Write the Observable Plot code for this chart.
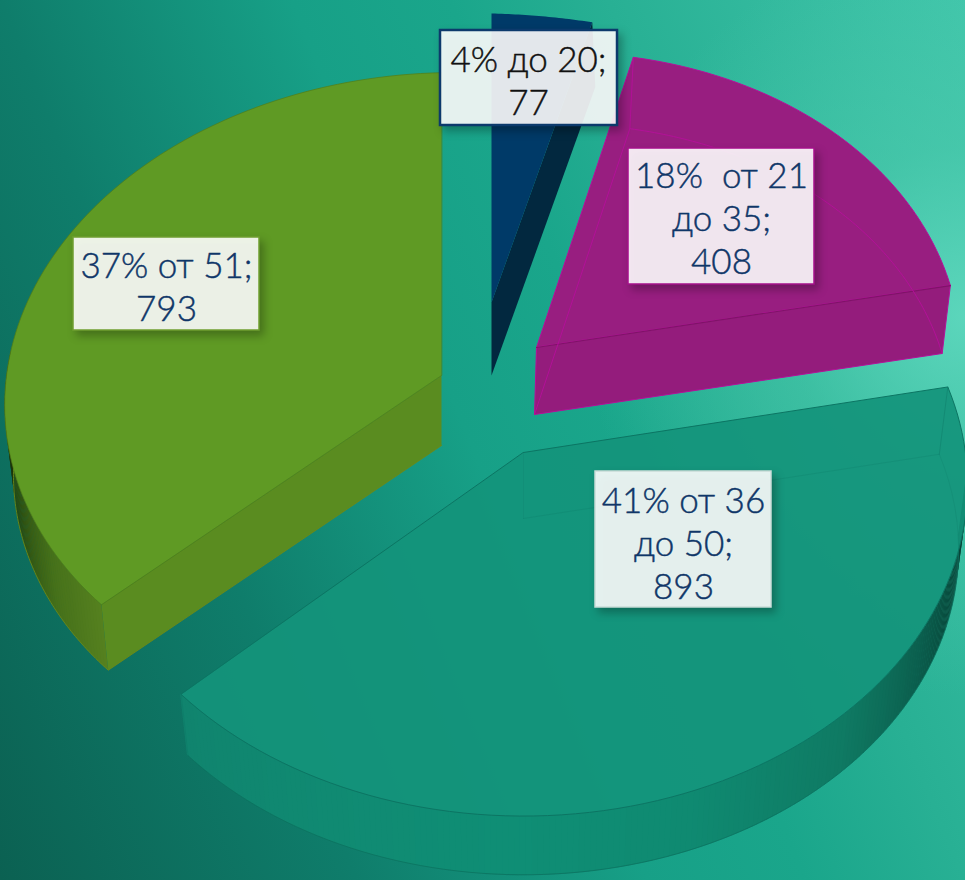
<!DOCTYPE html>
<html><head><meta charset="utf-8">
<script src="https://cdn.jsdelivr.net/npm/d3@7"></script>
<script src="https://cdn.jsdelivr.net/npm/@observablehq/plot@0.6"></script>
<style>
html,body{margin:0;padding:0;width:965px;height:880px;overflow:hidden}
body{background:
 radial-gradient(circle 380px at 100% 36%, rgba(98,218,192,.85), rgba(80,205,175,.48) 45%, rgba(40,180,150,0) 100%),
 linear-gradient(68deg,#0b6152 0%,#0f7d6b 27%,#17a087 49%,#1aa68b 61%,#28b094 73%,#40c5aa 100%);}
</style></head><body><div id="chart"></div>
<script>
// data
const bands = ["до 20","от 21 до 35","от 36 до 50","от 51"];
const counts = [77,408,893,793];
const percents = [4,18,41,37];
const labels = ["4% до 20;\n77","18%  от 21\nдо 35;\n408","41% от 36\nдо 50;\n893","37% от 51;\n793"];

// layout of the exploded perspective pie
const W=965,H=880;
const geom=[
 {ax:491,ay:302,a:496,b:0,c:-11,d:315,k:.09,s:1.03,depth:73},
 {ax:536,ay:347,a:424,b:11.9,c:9.5,d:321.5,k:.09,s:.985,depth:67,shiftX:-2},
 {ax:523,ay:452,a:440,b:-15,c:12.4,d:327,k:.1,s:.98,depth:66},
 {ax:441,ay:375,a:436,b:0,c:10,d:321,k:.06,s:.98,depth:70}
];
const style=[
 {top:"#003a68",wall:"#02283f",line:"#003a68"},
 {top:"#981e80",wall:"#941c7c",line:"#b5109a"},
 {top:"#13947b",wall:"#118a72",line:"#0c7563"},
 {top:"#5f9a24",wall:"#5a8c20",line:"#537d16"}
];
const boxes=[
 {x1:440,x2:617,y1:30,y2:125,stroke:"#0c3a6c",sw:2.5,tx:528,ty:79,color:"#111"},
 {x1:628,x2:814,y1:148,y2:284,stroke:"#a5108a",sw:1.5,tx:721,ty:217,color:"#0f3668"},
 {x1:595,x2:771,y1:471,y2:607,stroke:"#c9dcd8",sw:1.5,tx:683,ty:542,color:"#0f3668"},
 {x1:73,x2:259,y1:237,y2:330,stroke:"#6f9f30",sw:1.5,tx:166,ty:285,color:"#0f3668"}
];

const arcs=d3.pie().sort(null)(counts);
function P(i,t,bottom){
  const g=geom[i],u=Math.sin(t),v=Math.cos(t),den=1+g.k*v;
  let dx=(g.a*u+g.b*v)/den,dy=-(g.c*u+g.d*v)/den;
  if(bottom){dx=dx*g.s+(g.shiftX||0);dy=dy*g.s+g.depth;}
  return {x:g.ax+dx,y:g.ay+dy};
}
const A=(i,bottom)=>{const g=geom[i];return bottom?{x:g.ax+(g.shiftX||0),y:g.ay+g.depth}:{x:g.ax,y:g.ay}};
function arc(i,t0,t1,bottom,n=90){return d3.range(n+1).map(j=>P(i,t0+(t1-t0)*j/n,bottom));}
const xy={x:"x",y:"y"};
const poly=(pts,o)=>Plot.line(pts,{...xy,curve:"linear-closed",strokeWidth:1,...o});
const path=(pts,o)=>Plot.line(pts,{...xy,curve:"linear",fill:"none",strokeWidth:1,...o});
const rad=d=>d*Math.PI/180;
function rim(i,t0,t1,shade){
  const rows=[];const n=Math.round((t1-t0)/rad(.7));
  for(let j=0;j<n;j++){
    const a=t0+(t1-t0)*j/n,b=t0+(t1-t0)*(j+1.3)/n,c=shade(j/(n-1));
    [P(i,a),P(i,b),P(i,b,true),P(i,a,true)].forEach(p=>rows.push({...p,id:j,c}));
  }
  return Plot.line(rows,{...xy,z:"id",fill:"c",stroke:"none",curve:"linear-closed"});
}
const mix=(stops)=>d3.scaleLinear().domain(stops.map((_,i)=>i/(stops.length-1))).range(stops).interpolate(d3.interpolateRgb);

const marks=[];
// teal: 2
{const i=2,s=style[i],{startAngle:t0,endAngle:t1}=arcs[i];
 marks.push(rim(i,rad(95),t1,mix(["#062f27","#0a5546","#0f7a63","#0f8a71","#0f8e75","#108a72","#10846e"])));
 marks.push(path([P(i,t1),P(i,t1,true)],{stroke:s.line,strokeOpacity:.4}));
 marks.push(path(arc(i,rad(95),t1,true),{stroke:"#0c6f5c",strokeOpacity:.7}));
 marks.push(poly([A(i),...arc(i,t0,t1)],{fill:s.top,stroke:s.line,fillOpacity:.92}));
 marks.push(path([A(i,true),...arc(i,t0,t1,true,60)].slice(0,45),{stroke:s.line,strokeOpacity:.22}));
 marks.push(path([A(i),A(i,true)],{stroke:s.line,strokeOpacity:.15}));
 marks.push(path([P(i,t0),P(i,t0,true)],{stroke:s.line,strokeOpacity:.4}));
}
// magenta: 1
{const i=1,s=style[i],{startAngle:t0,endAngle:t1}=arcs[i];
 marks.push(poly([A(i),...arc(i,t0,t1)],{fill:s.top,stroke:s.line}));
 marks.push(poly([A(i),A(i,true),P(i,t1,true),P(i,t1)],{fill:s.wall,stroke:s.line}));
 marks.push(path([A(i),P(i,t1)],{stroke:"#7f1468",strokeWidth:1.2}));
 marks.push(path([A(i,true),P(i,t0,true),...arc(i,t0,t1,true)],{stroke:s.line,strokeOpacity:.9}));
 marks.push(path([P(i,t0),P(i,t0,true)],{stroke:s.line,strokeOpacity:.9}));
}
// blue: 0
{const i=0,s=style[i],{startAngle:t0,endAngle:t1}=arcs[i];
 marks.push(poly([A(i),A(i,true),P(i,t1,true),P(i,t1)],{fill:s.wall,stroke:"none"}));
 marks.push(poly([A(i),...arc(i,t0,t1,false,30)],{fill:s.top,stroke:"none"}));
}
// green: 3
{const i=3,s=style[i],{startAngle:t0,endAngle:t1}=arcs[i];
 marks.push(rim(i,t0,rad(276),mix(["#55801f","#45701a","#2f5212","#1c3209","#142507"])));
 marks.push(poly([A(i),A(i,true),P(i,t0,true),P(i,t0)],{fill:s.wall,stroke:"none"}));
 marks.push(path([A(i,true),P(i,t0,true),...arc(i,t0,rad(276),true)],{stroke:"#6a8a1a",strokeOpacity:.9}));
 marks.push(poly([A(i),...arc(i,t0,t1)],{fill:s.top,stroke:s.line,strokeOpacity:.7}));
}
// labels
marks.push(Plot.rect(boxes,{x1:"x1",x2:"x2",y1:"y1",y2:"y2",fill:"white",fillOpacity:.89,stroke:"stroke",strokeWidth:"sw",imageFilter:"drop-shadow(4px 5px 4px rgba(0,0,0,.3))"}));
marks.push(Plot.text(labels,{x:(d,i)=>boxes[i].tx,y:(d,i)=>boxes[i].ty,text:d=>d,fill:(d,i)=>boxes[i].color,stroke:(d,i)=>boxes[i].color,strokeWidth:.45,fontSize:35,fontWeight:300,lineHeight:1.23,textAnchor:"middle",lineAnchor:"middle",fontFamily:"Lato, 'Noto Sans', sans-serif"}));

const plot=Plot.plot({width:W,height:H,margin:0,
 x:{domain:[0,W],range:[0,W],axis:null},
 y:{domain:[0,H],range:[0,H],axis:null},
 color:{type:"identity"},
 style:{background:"transparent",maxWidth:"none",overflow:"hidden"},
 marks});
document.getElementById("chart").append(plot);
</script></body></html>
